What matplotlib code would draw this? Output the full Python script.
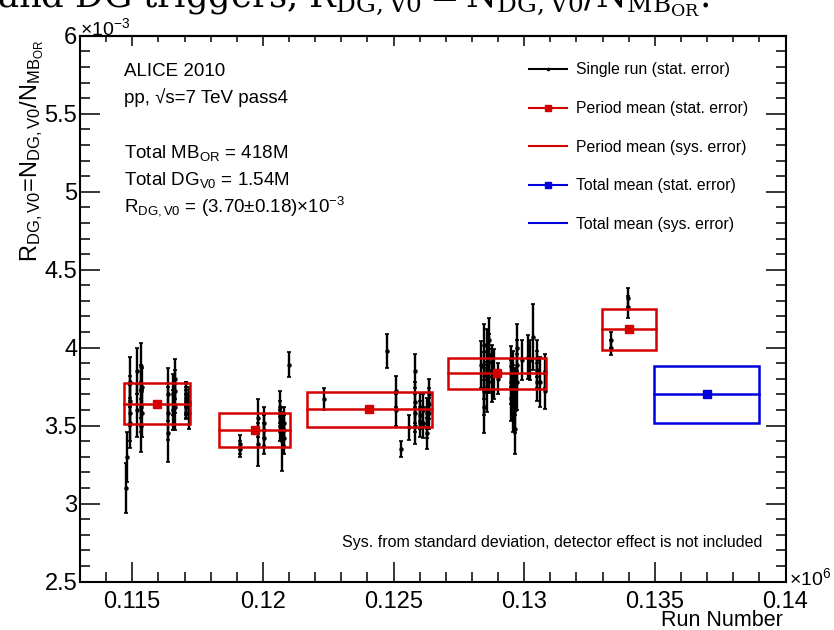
import numpy as np
import matplotlib
matplotlib.use('Agg')
import matplotlib.pyplot as plt
from matplotlib.lines import Line2D
from matplotlib.patches import Rectangle
from matplotlib.ticker import MultipleLocator, FuncFormatter

plt.rcParams['font.family'] = ['Liberation Sans', 'DejaVu Sans']
plt.rcParams['mathtext.fontset'] = 'custom'
plt.rcParams['mathtext.rm'] = 'Liberation Sans'
plt.rcParams['mathtext.it'] = 'Liberation Sans:italic'
plt.rcParams['mathtext.bf'] = 'Liberation Sans:bold'

RED = '#d40000'
BLUE = '#0000dd'

# single runs: run number, R_DG,V0 (x1e-3), stat. error
run_number = [
    # LHC10b
    114760, 114799, 114914, 114918, 114925, 114931, 115181, 115186, 115334, 115338,
    115340, 115345, 115373, 115380, 116368, 116372, 116375, 116559, 116563, 116636,
    116640, 116645, 117048, 117053, 117057, 117060, 117065, 117171, 117176,
    # LHC10c
    119123, 119130, 119812, 119818, 120042, 120045, 120048, 120654, 120657, 120660,
    120731, 120807, 120810, 120812, 120998,
    # LHC10d
    122338, 124749, 125093, 125099, 125285, 125591, 125820, 125826, 125829, 125832,
    126012, 126015, 126018, 126127, 126133, 126280, 126283, 126286, 126356, 126359,
    126362,
    # LHC10e
    128346, 128461, 128464, 128466, 128472, 128576, 128579, 128582, 128652, 128655,
    128658, 128767, 128770, 128773, 128844, 128997, 129494, 129497, 129500, 129571,
    129574, 129577, 129647, 129650, 129653, 129724, 129727, 129730, 129915, 130145,
    130222, 130337, 130490, 130493, 130496, 130604, 130800, 130806,
    # LHC10f
    133322, 133328, 133972, 133978,
]
run_ratio = [
    3.10, 3.30, 3.78, 3.58, 3.66, 3.52, 3.85, 3.60, 3.88, 3.72,
    3.62, 3.50, 3.75, 3.58, 3.70, 3.45, 3.58, 3.70, 3.60, 3.80,
    3.62, 3.72, 3.70, 3.66, 3.64, 3.62, 3.68, 3.65, 3.58,
    3.38, 3.35, 3.55, 3.38, 3.52, 3.47, 3.42, 3.62, 3.56, 3.50,
    3.40, 3.52, 3.47, 3.42, 3.89,
    3.67, 3.98, 3.72, 3.60, 3.35, 3.49, 3.85, 3.65, 3.58, 3.50,
    3.62, 3.57, 3.52, 3.60, 3.52, 3.58, 3.52, 3.45, 3.70, 3.64,
    3.58,
    3.89, 4.02, 3.72, 3.82, 3.62, 3.98, 3.86, 3.75, 4.05, 3.95,
    3.85, 3.90, 3.84, 3.78, 3.83, 3.80, 3.88, 3.78, 3.68, 3.85,
    3.74, 3.62, 3.72, 3.60, 3.48, 4.00, 3.89, 3.78, 3.92, 3.94,
    3.92, 4.07, 3.93, 3.86, 3.78, 3.78, 3.85, 3.72,
    4.05, 4.00, 4.32, 4.26,
]
run_err = [
    0.16, 0.16, 0.16, 0.18, 0.16, 0.16, 0.15, 0.17, 0.15, 0.17,
    0.16, 0.17, 0.12, 0.15, 0.17, 0.18, 0.17, 0.13, 0.13, 0.13,
    0.15, 0.14, 0.08, 0.09, 0.09, 0.08, 0.10, 0.10, 0.10,
    0.06, 0.05, 0.12, 0.14, 0.10, 0.10, 0.10, 0.10, 0.10, 0.10,
    0.19, 0.10, 0.10, 0.10, 0.08,
    0.07, 0.11, 0.10, 0.10, 0.05, 0.08, 0.11, 0.13, 0.12, 0.12,
    0.09, 0.09, 0.09, 0.10, 0.10, 0.10, 0.10, 0.10, 0.10, 0.10,
    0.10,
    0.15, 0.13, 0.15, 0.15, 0.17, 0.14, 0.15, 0.16, 0.14, 0.14,
    0.14, 0.12, 0.12, 0.13, 0.16, 0.10, 0.13, 0.14, 0.15, 0.13,
    0.15, 0.16, 0.15, 0.15, 0.16, 0.15, 0.16, 0.18, 0.13, 0.14,
    0.13, 0.21, 0.12, 0.12, 0.12, 0.16, 0.11, 0.11,
    0.05, 0.05, 0.06, 0.07,
]

# periods LHC10b..LHC10f
period_first = [114684, 118320, 121687, 127083, 132977]
period_last = [117210, 121037, 126471, 130834, 135044]
period_mean = [3.642, 3.472, 3.604, 3.835, 4.117]
period_stat = [0.010, 0.012, 0.009, 0.006, 0.012]
period_sys = [0.131, 0.109, 0.112, 0.100, 0.131]

# total mean, drawn beside the periods
total_first = 134967
total_last = 138985
total_mean = 3.70
total_stat = 0.004
total_sys = 0.18


def draw_box(ax, x0, x1, mean, sys, color):
    ax.add_patch(Rectangle((x0, mean - sys), x1 - x0, 2 * sys,
                           fill=False, edgecolor=color, lw=1.8, zorder=3))
    ax.plot([x0, x1], [mean, mean], color=color, lw=1.8, zorder=3)


fig = plt.figure(figsize=(8.34, 6.3), dpi=100)
ax = fig.add_axes([0.0959, 0.0767, 0.846, 0.8666])

x_runs = np.array(run_number) * 1e-6
ax.errorbar(x_runs, run_ratio, yerr=run_err, fmt='o', color='black', ms=2.2,
            elinewidth=1.7, capsize=1.6, capthick=1.2, zorder=2)

for x0, x1, m, s in zip(period_first, period_last, period_mean, period_sys):
    draw_box(ax, x0 * 1e-6, x1 * 1e-6, m, s, RED)
period_mid = (np.array(period_first) + np.array(period_last)) / 2 * 1e-6
ax.errorbar(period_mid, period_mean, yerr=period_stat, fmt='s', color=RED,
            ms=5.5, elinewidth=1.3, zorder=4)

draw_box(ax, total_first * 1e-6, total_last * 1e-6, total_mean, total_sys, BLUE)
ax.errorbar([(total_first + total_last) / 2 * 1e-6], [total_mean], yerr=[total_stat],
            fmt='s', color=BLUE, ms=5.5, elinewidth=1.3, zorder=4)

ax.set_xlim(0.113, 0.14)
ax.set_ylim(2.5, 6)

fmt = FuncFormatter(lambda v, p: f"{round(v, 4):g}")
ax.xaxis.set_major_locator(MultipleLocator(0.005))
ax.xaxis.set_minor_locator(MultipleLocator(0.001))
ax.yaxis.set_major_locator(MultipleLocator(0.5))
ax.yaxis.set_minor_locator(MultipleLocator(0.1))
ax.xaxis.set_major_formatter(fmt)
ax.yaxis.set_major_formatter(fmt)

ax.tick_params(which='both', direction='in', left=True, right=True, bottom=True,
               top=False, width=1.1, labelsize=17)
ax.tick_params(which='major', length=14.4)
ax.tick_params(which='minor', length=7.2)
ax.tick_params(axis='x', pad=7)
ax.tick_params(axis='y', pad=2)

top = ax.secondary_xaxis('top')
top.xaxis.set_major_locator(MultipleLocator(0.005))
top.xaxis.set_minor_locator(MultipleLocator(0.001))
top.tick_params(which='both', direction='in', width=1.1, labeltop=False)
top.tick_params(which='major', length=7.5)
top.tick_params(which='minor', length=4.5)

for sp in ax.spines.values():
    sp.set_linewidth(1.5)
top.spines['top'].set_linewidth(1.5)

# labels and annotations
fig.text(32 / 834, 1 - 40 / 630,
         r'R$_{\mathrm{DG,V0}}$=N$_{\mathrm{DG,V0}}$/N$_{\mathrm{MB_{OR}}}$',
         rotation=90, ha='center', va='top', fontsize=17)
fig.text(80 / 834, 1 - 35 / 630, r'×10$^{-3}$', fontsize=14, va='baseline')
fig.text(789 / 834, 1 - 585 / 630, r'×10$^{6}$', fontsize=14, va='baseline')
fig.text(783 / 834, 1 - 626 / 630, 'Run Number', ha='right', va='baseline',
         fontsize=15.5)

info = [
    (0.9267, 'ALICE 2010'),
    (0.8773, 'pp, √s=7 TeV pass4'),
    (0.7760, r'Total MB$_{\mathrm{OR}}$ = 418M'),
    (0.7265, r'Total DG$_{\mathrm{V0}}$ = 1.54M'),
    (0.6777, r'R$_{\mathrm{DG,V0}}$ = (3.70±0.18)×10$^{-3}$'),
]
for y, s in info:
    ax.text(0.0624, y, s, transform=ax.transAxes, va='baseline', fontsize=13.5)

ax.text(0.9667, 0.0709,
        'Sys. from standard deviation, detector effect is not included',
        transform=ax.transAxes, ha='right', va='center', fontsize=11.5,
        family=['Liberation Sans Narrow', 'Liberation Sans'])

handles = [
    Line2D([], [], color='black', lw=1.5, marker='o', ms=1.6),
    Line2D([], [], color=RED, lw=1.5, marker='s', ms=5),
    Line2D([], [], color=RED, lw=1.5),
    Line2D([], [], color=BLUE, lw=1.5, marker='s', ms=5),
    Line2D([], [], color=BLUE, lw=1.5),
]
labels = ['Single run (stat. error)', 'Period mean (stat. error)',
          'Period mean (sys. error)', 'Total mean (stat. error)',
          'Total mean (sys. error)']
ax.legend(handles, labels, loc='upper left', bbox_to_anchor=(0.6364, 0.951),
          frameon=False, fontsize=11.3, borderpad=0, borderaxespad=0,
          handlelength=2.4, handletextpad=0.6, labelspacing=1.5, numpoints=1)

# caption line from the surrounding text, cut by the top edge
fig.text(-0.004, 1 - 7 / 630,
         r'and DG triggers, $\mathrm{R_{DG,V0}} = \mathrm{N_{DG,V0}/N_{MB_{OR}}}$.',
         fontsize=25.5, family='DejaVu Serif', math_fontfamily='dejavuserif',
         va='baseline')

fig.savefig('out.png', dpi=100)
